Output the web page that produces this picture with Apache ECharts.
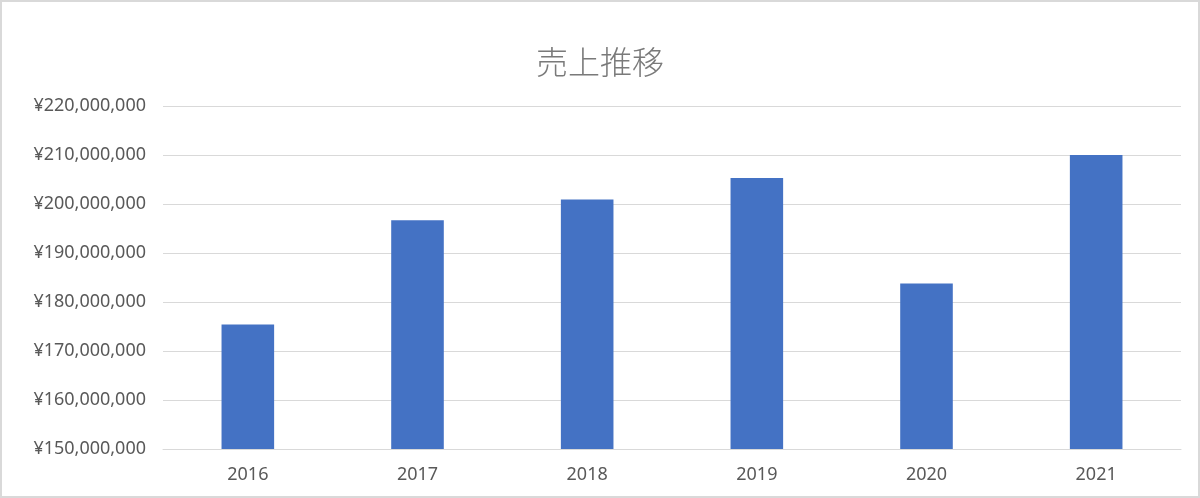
<!DOCTYPE html>
<html>
<head>
<meta charset="utf-8">
<script src="https://cdn.jsdelivr.net/npm/echarts@6/dist/echarts.min.js"></script>
<style>
html,body{margin:0;padding:0;background:#fff;}
#chart{width:1196px;height:494px;border:2px solid #d9d9d9;}
</style>
</head>
<body>
<div id="chart"></div>
<script>
const title = '売上推移';
const categories = ['2016', '2017', '2018', '2019', '2020', '2021'];
const sales = [175400000, 196700000, 200900000, 205300000, 183800000, 210000000];
const yMin = 150000000;
const yMax = 220000000;
const yStep = 10000000;

const cjkFont = '"Noto Sans CJK JP", "Noto Sans", sans-serif';
const numFont = '"Noto Sans", "Noto Sans CJK JP", sans-serif';
const chart = echarts.init(document.getElementById('chart'));
chart.setOption({
  animation: false,
  title: {
    text: title,
    left: 'center',
    top: 39,
    textStyle: {color: '#7a7a7a', fontSize: 32, fontWeight: 300, fontFamily: cjkFont}
  },
  grid: {left: 161, right: 17, top: 104, bottom: 47},
  xAxis: {
    type: 'category',
    data: categories,
    axisLine: {show: true, lineStyle: {color: '#d9d9d9', width: 1}},
    axisTick: {show: false},
    axisLabel: {color: '#595959', fontSize: 18, fontFamily: numFont, margin: 17}
  },
  yAxis: {
    type: 'value',
    min: yMin,
    max: yMax,
    interval: yStep,
    axisLine: {show: false},
    axisTick: {show: false},
    splitLine: {lineStyle: {color: '#d9d9d9', width: 1}},
    axisLabel: {
      color: '#595959', fontSize: 18, fontFamily: numFont, margin: 17,
      formatter: v => '¥' + v.toLocaleString('en-US')
    }
  },
  series: [{
    type: 'bar',
    data: sales,
    barWidth: '31%',
    itemStyle: {color: '#4472c4'}
  }]
});
</script>
</body>
</html>
